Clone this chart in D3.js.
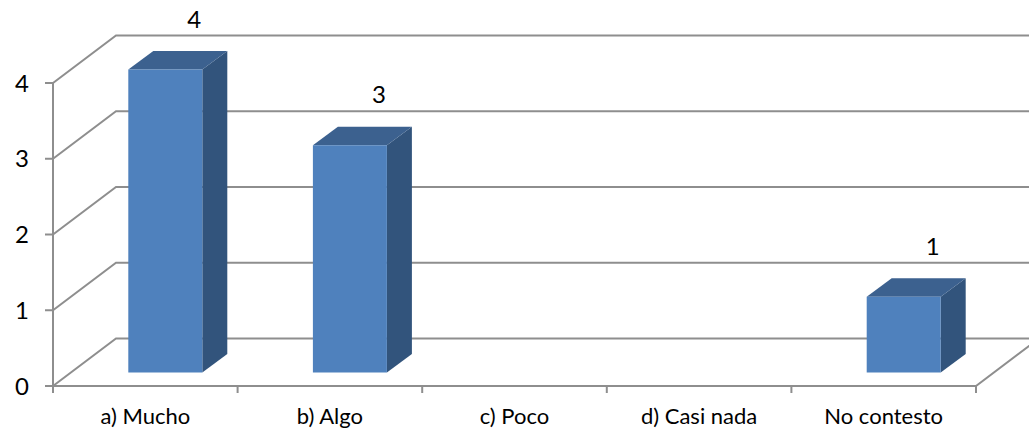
<!DOCTYPE html>
<html><head><meta charset="utf-8">
<script src="https://cdn.jsdelivr.net/npm/d3@7/dist/d3.min.js"></script>
<style>html,body{margin:0;padding:0;background:#fff}svg{display:block}text{font-family:Lato,"Open Sans",sans-serif;fill:#000}</style>
</head><body><div id="c"></div>
<script>
const categories = ["a) Mucho","b) Algo","c) Poco","d) Casi nada","No contesto"];
const values = [4,3,0,0,1];
const yTicks = [0,1,2,3,4];

const W=1029,H=431;
const svg=d3.select("#c").append("svg").attr("width",W).attr("height",H);
const x=d3.scaleBand().domain(categories).range([53,976]);
const y=d3.scaleLinear().domain([0,4]).range([386,83]);
const depth={dx:63,dy:-47.5};
const barDepth={dx:25,dy:-18.5};
const barInset={dx:20,dy:-13.5};
const barW=74;
const grid="#8e8e8e";

// gridlines: back wall and side wall
yTicks.forEach(t=>{
  const y0=y(t);
  svg.append("path")
    .attr("d",`M${x.range()[0]},${y0}L${x.range()[0]+depth.dx},${y0+depth.dy}L${x.range()[1]+depth.dx},${y0+depth.dy}`)
    .attr("fill","none").attr("stroke",grid).attr("stroke-width",2);
});
// left vertical axis
svg.append("line").attr("x1",53).attr("x2",53).attr("y1",y(4)).attr("y2",y(0)).attr("stroke",grid).attr("stroke-width",2);
// floor front edge + right edge
svg.append("path").attr("d",`M53,${y(0)}L976,${y(0)}L${976+depth.dx},${y(0)+depth.dy}`).attr("fill","none").attr("stroke",grid).attr("stroke-width",2);

// axis ticks
yTicks.forEach(t=>{
  svg.append("line").attr("x1",45).attr("x2",53).attr("y1",y(t)).attr("y2",y(t)).attr("stroke",grid).attr("stroke-width",2);
  svg.append("text").attr("x",22).attr("y",y(t)).attr("dy","0.36em").attr("text-anchor","middle").attr("font-size",24).text(t);
});
const edges=categories.map(c=>x(c)).concat(x.range()[1]);
edges.forEach(e=>{
  svg.append("line").attr("x1",e).attr("x2",e).attr("y1",y(0)).attr("y2",393).attr("stroke",grid).attr("stroke-width",2);
});
categories.forEach(c=>{
  svg.append("text").attr("x",x(c)+x.bandwidth()/2).attr("y",424).attr("text-anchor","middle").attr("font-size",22).text(c);
});

// bars
categories.forEach((c,i)=>{
  const v=values[i];
  if(!v) return;
  const cx=x(c)+x.bandwidth()/2+barInset.dx;
  const l=cx-barW/2,r=cx+barW/2;
  const t=y(v)+barInset.dy,b=y(0)+barInset.dy;
  const d=barDepth;
  svg.append("path").attr("d",`M${r},${t}L${r+d.dx},${t+d.dy}L${r+d.dx},${b+d.dy}L${r},${b}Z`).attr("fill","#32547c");
  svg.append("path").attr("d",`M${l},${t}L${l+d.dx},${t+d.dy}L${r+d.dx},${t+d.dy}L${r},${t}Z`).attr("fill","#3c618f");
  svg.append("rect").attr("x",l).attr("y",t).attr("width",barW).attr("height",b-t).attr("fill","#4f81bd");
  svg.append("text").attr("x",cx+29).attr("y",y(v)-64).attr("dy","0.36em").attr("text-anchor","middle").attr("font-size",24).text(v);
});
</script></body></html>
